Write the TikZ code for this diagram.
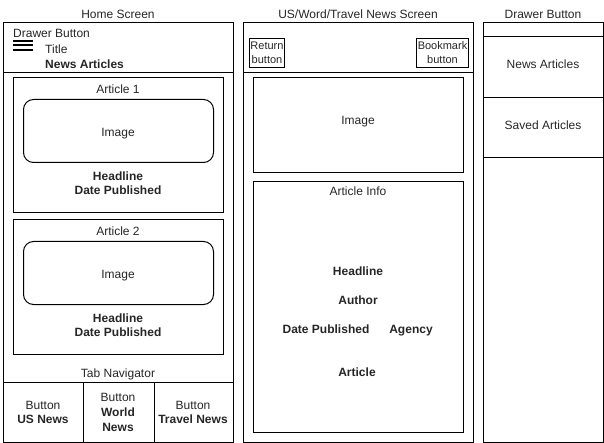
\documentclass[tikz,border=0pt]{standalone}
\usepackage{fontspec}
\setmainfont{Liberation Sans}
\begin{document}
\begin{tikzpicture}[x=1pt,y=-1pt,
  box/.style={draw=black,line width=1pt},
  lbl/.style={inner sep=0pt,font=\fontsize{12}{14}\selectfont,text=black!85,text height=8.6pt,text depth=2.4pt},
  blbl/.style={inner sep=0pt,font=\fontsize{12}{14.5}\selectfont\bfseries,align=center,text=black!85},
  small/.style={inner sep=0pt,font=\fontsize{11}{14}\selectfont,align=center,text=black!85}]
\useasboundingbox (0,0) rectangle (604,443);
% ---------- Home screen ----------
\node[lbl] (hs) at (118,15) {Home Screen};
\draw[box] (3.5,22.5) rectangle (233.5,442.5);
\draw[box] (3.5,72.5) -- (233.5,72.5);
\node[lbl,anchor=west] (db) at (13,34) {Drawer Button};
\foreach \yy in {41,45.5,50} \draw[line width=2pt] (13,\yy) -- (33,\yy);
\node[lbl,anchor=west] (ti) at (45,50) {Title};
\node[blbl,anchor=west,text height=8.6pt,text depth=2.4pt] (na) at (45,65) {News Articles};
% Article 1
\draw[box] (13.5,77.5) rectangle (223.5,212.5);
\node[lbl] (a1) at (118,90) {Article 1};
\draw[box,rounded corners=10pt] (23.5,99.5) rectangle (213.5,162.5);
\node[lbl] (i1) at (118,133) {Image};
\node[blbl] (h1) at (118,183) {Headline\\Date Published};
% Article 2
\draw[box] (13.5,219.5) rectangle (223.5,354.5);
\node[lbl] (a2) at (118,232) {Article 2};
\draw[box,rounded corners=10pt] (23.5,241.5) rectangle (213.5,304.5);
\node[lbl] (i2) at (118,275) {Image};
\node[blbl] (h2) at (118,325) {Headline\\Date Published};
% Tab navigator
\node[lbl] (tn) at (118,374) {Tab Navigator};
\draw[box] (3.5,382.5) -- (233.5,382.5);
\draw[box] (83.5,382.5) -- (83.5,442.5);
\draw[box] (154.5,382.5) -- (154.5,442.5);
\node[lbl] (b1a) at (43,406) {Button};
\node[blbl,text height=8.6pt,text depth=2.4pt] (b1b) at (43,420) {US News};
\node[lbl] (b2a) at (118,398) {Button};
\node[blbl] (b2b) at (118,419.5) {World\\News};
\node[lbl] (b3a) at (193,406) {Button};
\node[blbl,text height=8.6pt,text depth=2.4pt] (b3b) at (193,420) {Travel News};
% ---------- Middle screen ----------
\node[lbl] (ms) at (358,15) {US/Word/Travel News Screen};
\draw[box] (243.5,22.5) rectangle (473.5,442.5);
\draw[box] (243.5,72.5) -- (473.5,72.5);
\draw[box] (249.5,38.5) rectangle (284.5,67.5);
\node[small] (rb) at (267,53) {Return\\button};
\draw[box] (416.5,38.5) rectangle (468.5,67.5);
\node[small] (bb) at (442.5,53) {Bookmark\\button};
\draw[box] (253.5,77.5) rectangle (463.5,172.5);
\node[lbl] (im) at (358,121) {Image};
\draw[box] (253.5,181.5) rectangle (463.5,432.5);
\node[lbl] (ai) at (358,192) {Article Info};
\tikzset{one/.style={blbl,text height=8.6pt,text depth=2.4pt}}
\node[one] (hd) at (358,272) {Headline};
\node[one] (au) at (358,301) {Author};
\node[one] (dp) at (326,330) {Date Published};
\node[one] (ag) at (411,330) {Agency};
\node[one] (ar) at (357,373) {Article};
% ---------- Drawer ----------
\node[lbl] (dr) at (543,15) {Drawer Button};
\draw[box] (483.5,22.5) rectangle (603,442.5);
\draw[box] (483.5,36.5) -- (603,36.5);
\draw[box] (483.5,97.5) -- (603,97.5);
\draw[box] (483.5,157.5) -- (603,157.5);
\node[lbl] (dna) at (543,65) {News Articles};
\node[lbl] (dsa) at (543,126) {Saved Articles};
\end{tikzpicture}
\end{document}
